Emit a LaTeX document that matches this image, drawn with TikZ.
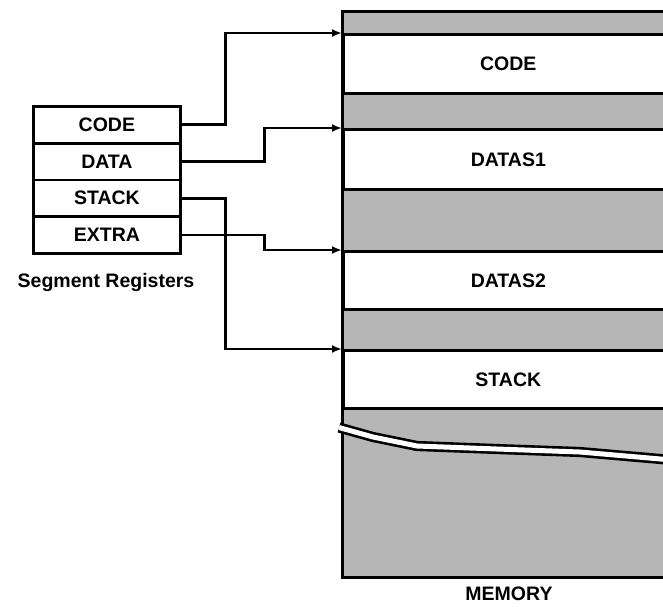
\documentclass[tikz,border=0pt]{standalone}
\usepackage{fontspec}
\setmainfont{Liberation Sans}
\usetikzlibrary{arrows.meta}
\definecolor{memgray}{RGB}{182,182,182}
\begin{document}
\begin{tikzpicture}[x=1pt,y=-1pt,
  lbl/.style={font=\fontsize{19.5}{22}\selectfont\bfseries},
  reg/.style={draw, line width=2.8pt, minimum width=147pt, minimum height=36.75pt, inner sep=0pt, anchor=north west, lbl},
  band/.style={draw, line width=2.6pt, fill=white, minimum width=330pt, inner sep=0pt, anchor=north west, lbl},
  conn/.style={line width=2.8pt, -{Latex[length=10pt,width=8pt]}}]
\useasboundingbox (0,0) rectangle (663,606);
% memory
\fill[memgray] (342,11) rectangle (672,577);
\node[band, minimum height=59pt] (mcode) at (342,33) {CODE};
\node[band, minimum height=60pt] (mdatas1) at (342,128) {DATAS1};
\node[band, minimum height=58pt] (mdatas2) at (342,250) {DATAS2};
\node[band, minimum height=58pt] (mstack) at (342,349) {STACK};
\draw[line width=3pt] (342,11) rectangle (672,577);
\draw[line width=2.6pt, double=white, double distance=5pt]
  (339,427.5) -- (373,437) -- (417,446) -- (497,449) -- (580,452) -- (672,460);
% registers
\node[reg] (rcode) at (32,105) {CODE};
\node[reg] (rdata) at (32,141.75) {DATA};
\node[reg] (rstack) at (32,178.5) {STACK};
\node[reg] (rextra) at (32,215.25) {EXTRA};
\node[lbl] (seglbl) at (106,282) {Segment Registers};
\node[lbl] (memlbl) at (509,594) {MEMORY};
% connectors
\draw[conn] (rcode.east) -- ++(44,0) |- (mcode.north west);
\draw[conn] (rdata.east) -- ++(83,0) |- (mdatas1.north west);
\draw[conn] (rstack.east) -- ++(44,0) |- (mstack.north west);
\draw[conn] (rextra.east) -- ++(83,0) |- (mdatas2.north west);
\end{tikzpicture}
\end{document}
